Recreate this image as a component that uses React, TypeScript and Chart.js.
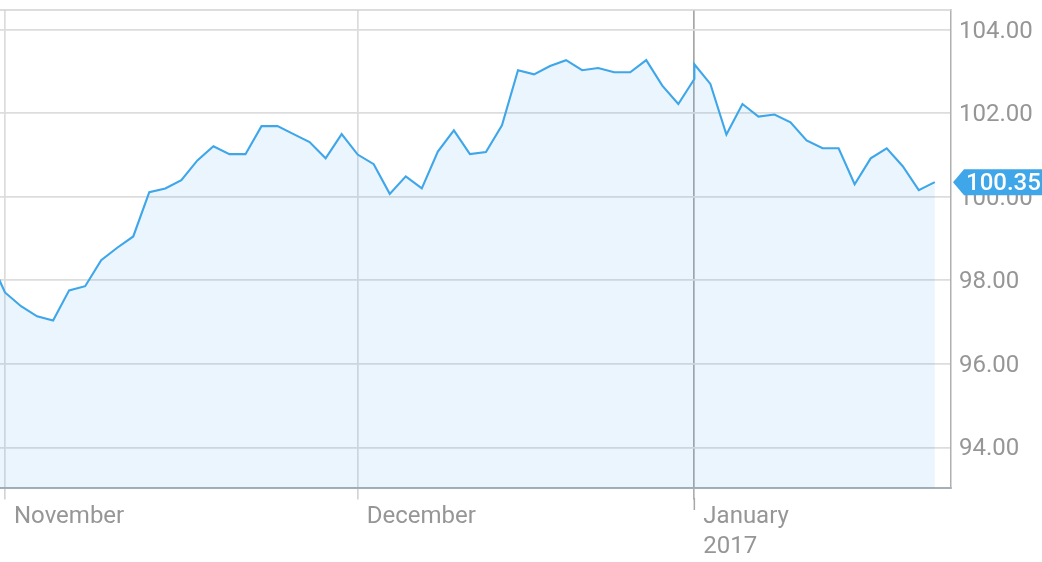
import React, { useEffect, useRef } from 'react';
import { Chart, registerables } from 'chart.js';

Chart.register(...registerables);

// Trading-session index (0 = first November session) and closing values
const sessionIndex: number[] = [
  -1, 0, 1, 2, 3, 4, 5, 6, 7, 8, 9, 10, 11, 12, 13, 14, 15, 16, 17, 18, 19, 20,
  21, 22, 23, 24, 25, 26, 27, 28, 29, 30, 31, 32, 33, 34, 35, 36, 37, 38, 39, 40,
  41, 42, 43, 43, 44, 45, 46, 47, 48, 49, 50, 51, 52, 53, 54, 55, 56, 57, 58,
];
const closePrices: number[] = [
  98.56, 97.71, 97.38, 97.14, 97.04, 97.76, 97.86, 98.48, 98.78, 99.05, 100.11,
  100.2, 100.4, 100.87, 101.21, 101.02, 101.02, 101.69, 101.69, 101.5, 101.31,
  100.92, 101.5, 101.01, 100.78, 100.07, 100.49, 100.2, 101.08, 101.59, 101.02,
  101.07, 101.71, 103.03, 102.93, 103.13, 103.27, 103.03, 103.08, 102.98, 102.98,
  103.27, 102.66, 102.22, 102.82, 103.17, 102.7, 101.49, 102.22, 101.92, 101.97,
  101.78, 101.35, 101.16, 101.16, 100.3, 100.92, 101.16, 100.73, 100.16, 100.35,
];
const monthTickIndex: number[] = [0, 22, 43];
const monthTickLabels: string[][] = [['November'], ['December'], ['January', '2017']];
const priceTicks: number[] = [94, 96, 98, 100, 102, 104];

const FONT = 'Roboto';
const LINE = '#3ea6e9';
const TEXT = '#969696';

const overlayPlugin = {
  id: 'overlay',
  afterDraw(chart: any) {
    const { ctx, chartArea: a, scales } = chart;
    ctx.save();
    // top frame line
    ctx.strokeStyle = '#d2d2d2';
    ctx.lineWidth = 1.5;
    ctx.beginPath();
    ctx.moveTo(a.left, a.top);
    ctx.lineTo(a.right, a.top);
    ctx.stroke();
    // longer tick for the year boundary
    const jx = scales.x.getPixelForValue(monthTickIndex[2]);
    ctx.strokeStyle = '#a6a6a6';
    ctx.lineWidth = 1.5;
    ctx.beginPath();
    ctx.moveTo(jx, a.bottom + 10);
    ctx.lineTo(jx, a.bottom + 22);
    ctx.stroke();
    // last price tag
    const last = closePrices[closePrices.length - 1];
    const y = scales.y.getPixelForValue(last);
    const tip = a.right + 2;
    const boxL = tip + 11;
    const h = 13;
    ctx.fillStyle = LINE;
    ctx.beginPath();
    ctx.moveTo(tip, y);
    ctx.lineTo(boxL, y - h);
    ctx.lineTo(chart.width, y - h);
    ctx.lineTo(chart.width, y + h);
    ctx.lineTo(boxL, y + h);
    ctx.closePath();
    ctx.fill();
    ctx.fillStyle = '#ffffff';
    ctx.font = `500 24px ${FONT}`;
    ctx.textBaseline = 'middle';
    ctx.textAlign = 'left';
    ctx.fillText(last.toFixed(2), boxL + 2, y + 2);
    ctx.restore();
  },
};

export default function App() {
  const canvasRef = useRef<HTMLCanvasElement | null>(null);

  useEffect(() => {
    document.body.style.margin = '0';
    const canvas = canvasRef.current;
    if (!canvas) return;
    const points = sessionIndex.map((x, i) => ({ x, y: closePrices[i] }));
    const chart = new Chart(canvas, {
      type: 'line',
      data: {
        datasets: [
          {
            data: points,
            borderColor: LINE,
            borderWidth: 2.1,
            backgroundColor: 'rgba(62,166,233,0.11)',
            fill: 'start',
            pointRadius: 0,
            tension: 0,
          },
        ],
      },
      plugins: [overlayPlugin],
      options: {
        animation: false,
        responsive: false,
        maintainAspectRatio: false,
        layout: { padding: { top: 10, left: 0, right: 0, bottom: 0 } },
        plugins: { legend: { display: false }, tooltip: { enabled: false } },
        scales: {
          x: {
            type: 'linear',
            min: -0.312,
            max: 59.01,
            afterBuildTicks: (axis: any) => {
              axis.ticks = monthTickIndex.map((v) => ({ value: v }));
            },
            afterFit: (s: any) => {
              s.height = 74;
              s.paddingLeft = 0;
              s.paddingRight = 0;
            },
            grid: {
              color: (c: any) => (c.tick && c.tick.value === monthTickIndex[2] ? '#a6a6a6' : '#dcdcdc'),
              tickColor: (c: any) => (c.tick && c.tick.value === monthTickIndex[2] ? '#a6a6a6' : '#cfcfcf'),
              lineWidth: 1.7,
              tickWidth: 1.5,
              tickLength: 11.5,
              drawTicks: true,
            },
            border: { display: true, color: '#a7aeb5', width: 2 },
            ticks: {
              autoSkip: false,
              maxRotation: 0,
              minRotation: 0,
              align: 'start',
              labelOffset: 9,
              padding: 2,
              color: TEXT,
              font: { family: FONT, size: 24, lineHeight: 1.25 },
              callback: (_v: any, i: number) => monthTickLabels[i],
            },
          },
          y: {
            type: 'linear',
            position: 'right',
            min: 93.03,
            max: 104.47,
            afterBuildTicks: (axis: any) => {
              axis.ticks = priceTicks.map((v) => ({ value: v }));
            },
            afterFit: (s: any) => {
              s.width = 91;
              s.paddingTop = 0;
              s.paddingBottom = 0;
            },
            grid: { color: '#dddddd', lineWidth: 1.7, drawTicks: false },
            border: { display: true, color: '#b0b0b0', width: 1.5 },
            ticks: {
              padding: 8,
              labelOffset: 2,
              color: TEXT,
              font: { family: FONT, size: 24, lineHeight: 0.8 },
              callback: (v: any) => Number(v).toFixed(2),
            },
          },
        },
      },
    } as any);
    return () => chart.destroy();
  }, []);

  return (
    <div style={{ width: 1042, height: 562 }}>
      <canvas ref={canvasRef} width={1042} height={562} style={{ display: 'block' }} />
    </div>
  );
}
